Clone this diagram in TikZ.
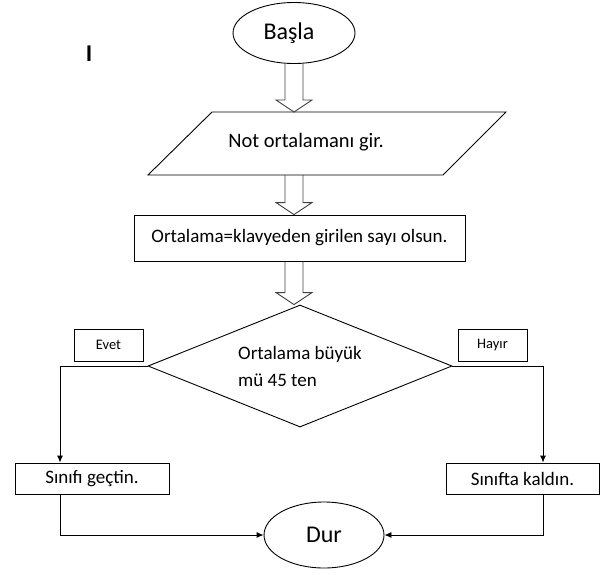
\documentclass[tikz,border=0pt]{standalone}
\usepackage{fontspec}
\setmainfont{Carlito}
\usetikzlibrary{shapes.geometric,arrows.meta,calc}

\begin{document}
\begin{tikzpicture}[x=1pt,y=-1pt,
        kutu/.style={draw,line width=0.9pt,rectangle,inner sep=0pt},
        uc/.style={draw,line width=0.9pt,ellipse,inner sep=0pt,font=\fontsize{24}{28}\selectfont},
        yazi/.style={font=\fontsize{19}{27}\selectfont},
        bosok/.style={draw=black!75,line width=0.9pt},
        ok/.style={-{Latex[length=7pt,width=6pt]},line width=0.9pt}]
                \useasboundingbox (0,0) rectangle (613,574);

                \node[uc,minimum width=122pt,minimum height=61pt] (basla) at (294,33) {Başla\hspace*{10pt}};
                \node[font=\fontsize{24}{24}\selectfont\bfseries] (imlec) at (89,54) {I};

                \draw[line width=0.9pt] (212,112) coordinate (girdiust) -- (506,112) -- (443,175)
                    -- (148,175) coordinate (girdialt) -- cycle;
                \node[font=\fontsize{20.5}{27}\selectfont] (girdi) at (306,142) {Not ortalamanı gir.};

                \node[kutu,yazi,minimum width=331pt,minimum height=46pt] (atama) at (299.5,238) {Ortalama=klavyeden girilen sayı olsun.};

                \node[draw,line width=0.9pt,diamond,aspect=2.5,minimum width=304pt,minimum height=122pt,
                      inner sep=0pt,align=left,yazi] (karar) at (300,366) {Ortalama büyük\\mü 45 ten};

                \node[kutu,minimum width=69pt,minimum height=32pt,font=\fontsize{14.5}{16}\selectfont] (evet) at (108.5,345) {Evet};
                \node[kutu,minimum width=69pt,minimum height=32pt,font=\fontsize{14.5}{16}\selectfont] (hayir) at (492.5,345) {Hayır};

                \node[kutu,yazi,minimum width=154pt,minimum height=31pt] (gecti) at (92,478.5) {Sınıfı geçtin.};
                \node[kutu,yazi,minimum width=153pt,minimum height=31pt] (kaldi) at (522.5,478.5) {Sınıfta kaldın.};

                \node[uc,minimum width=120pt,minimum height=66pt] (dur) at (324,535) {Dur};

                \foreach \a/\b in {basla.south/girdiust,girdialt/atama.north,atama.south/karar.north}
                    \draw[bosok] ($(basla |- \a)+(-9,0)$) -- ($(basla |- \b)+(-9,-12)$) -- ++(-9,0)
                        -- (basla |- \b) -- ++(18,-12) -- ++(-9,0) -- ($(basla |- \a)+(9,0)$);

                \coordinate (sol) at (60,366);
                \coordinate (sag) at (543,366);
                \draw[ok] (karar.west) -- (sol) -- (sol |- gecti.north);
                \draw[ok] (karar.east) -- (sag) -- (sag |- kaldi.north);
                \draw[ok] (sol |- gecti.south) |- (dur.west);
                \draw[ok] (sag |- kaldi.south) |- (dur.east);
            \end{tikzpicture}
\end{document}
